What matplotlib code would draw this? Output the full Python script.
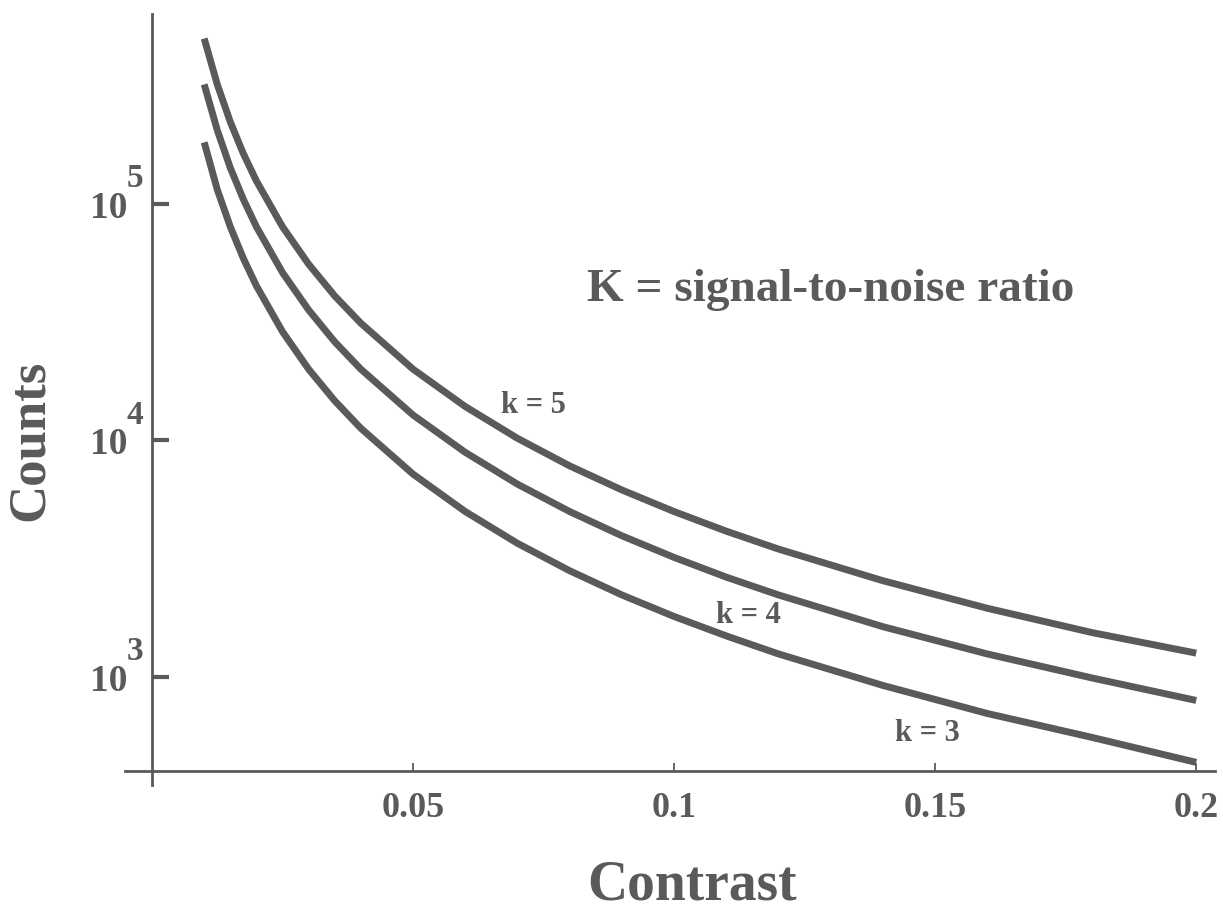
import numpy as np
import matplotlib.pyplot as plt
from matplotlib.transforms import blended_transform_factory

# contrast values and counts
contrast = [0.01, 0.0125, 0.015, 0.0175, 0.02, 0.025, 0.03, 0.035, 0.04, 0.05,
            0.06, 0.07, 0.08, 0.09, 0.1, 0.11, 0.12, 0.14, 0.16, 0.18, 0.2]
counts_k5 = [500000, 320000, 222000, 163000, 125000, 80000, 55600, 40800, 31300, 20000,
             13900, 10200, 7800, 6170, 5000, 4130, 3470, 2550, 1950, 1540, 1260]
counts_k4 = [320000, 205000, 142000, 104500, 80000, 51200, 35600, 26100, 20000, 12800,
             8900, 6530, 5000, 3950, 3200, 2640, 2220, 1630, 1250, 990, 795]
counts_k3 = [182000, 115000, 80000, 58800, 45000, 28800, 20000, 14700, 11250, 7200,
             5000, 3670, 2810, 2220, 1800, 1490, 1250, 920, 700, 555, 435]

xticks = [0.05, 0.1, 0.15, 0.2]
xtick_labels = ['0.05', '0.1', '0.15', '0.2']
yticks = [1e3, 1e4, 1e5]
yexp = ['3', '4', '5']

gray = '#5a5a5a'
plt.rcParams['font.family'] = ['Liberation Serif', 'DejaVu Serif']
plt.rcParams['font.weight'] = 'bold'

fig = plt.figure(figsize=(12.23, 9.11), dpi=100)
ax = fig.add_axes([125 / 1223, 1 - 785 / 911, 1090 / 1223, 771 / 911])

for y in (counts_k5, counts_k4, counts_k3):
    ax.plot(contrast, y, color=gray, lw=5, solid_capstyle='butt', solid_joinstyle='round')

ax.set_yscale('log')
ax.set_xlim(-0.00517, 0.2036)
ax.set_ylim(349, 635000)

for s in ('top', 'right'):
    ax.spines[s].set_visible(False)
ax.spines['left'].set_position(('data', 0))
ax.spines['bottom'].set_position(('data', 400))
for s in ('left', 'bottom'):
    ax.spines[s].set_color(gray)
    ax.spines[s].set_linewidth(2)

ax.set_xticks(xticks)
ax.set_xticklabels(xtick_labels)
ax.tick_params(axis='x', direction='in', length=6, width=1.3, color=gray,
               labelsize=26, labelcolor=gray, pad=15)
ax.set_yticks(yticks)
ax.yaxis.set_minor_locator(plt.NullLocator())
ax.set_yticklabels([])
ax.tick_params(axis='y', direction='in', length=12, width=3, color=gray)

tr = blended_transform_factory(ax.transData, ax.transData)
for t, e in zip(yticks, yexp):
    ax.annotate('10', xy=(0, t), xycoords=tr, xytext=(-18, -3), textcoords='offset points',
                ha='right', va='center', fontsize=27, color=gray)
    ax.annotate(e, xy=(0, t), xycoords=tr, xytext=(-18, 18), textcoords='offset points',
                ha='left', va='center', fontsize=24, color=gray)

ax.text(0.073, 14100, 'k = 5', fontsize=22, color=gray, ha='center', va='center')
ax.text(0.1142, 1810, 'k = 4', fontsize=22, color=gray, ha='center', va='center')
ax.text(0.1485, 574, 'k = 3', fontsize=22, color=gray, ha='center', va='center')
ax.text(0.13, 43300, 'K = signal-to-noise ratio', fontsize=34, color=gray,
        ha='center', va='center')

fig.text(30 / 1223, 1 - 440 / 911, 'Counts', rotation=90, fontsize=38, color=gray,
         ha='center', va='center')
fig.text(692 / 1223, 1 - 885 / 911, 'Contrast', fontsize=40, color=gray,
         ha='center', va='center')

fig.savefig('out.png', dpi=100)
